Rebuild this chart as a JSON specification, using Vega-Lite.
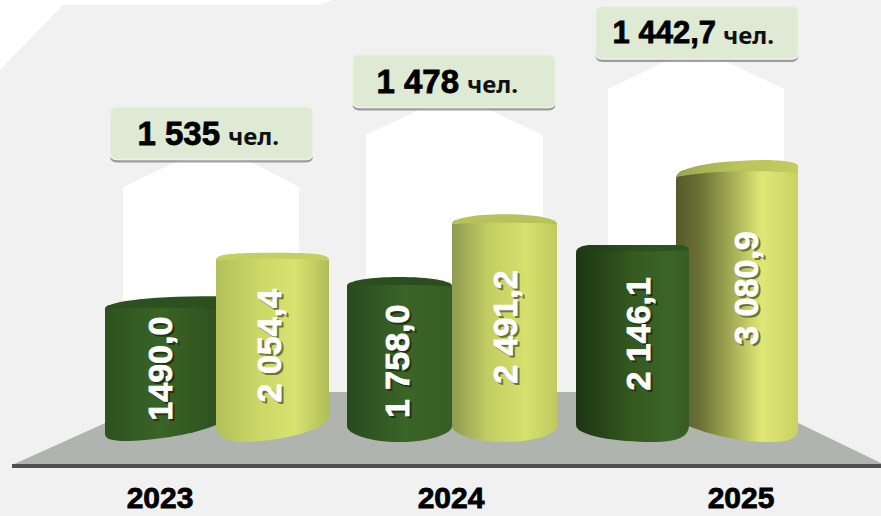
{"$schema":"https://vega.github.io/schema/vega-lite/v6.json","width":881,"height":516,"autosize":"none","padding":0,"background":"#f1f1f1","config":{"view":{"stroke":null}},
"data":{"values":[{"year":"2023","series":"Ряд 1","value":1490.0,"label":"1490,0"},{"year":"2023","series":"Ряд 2","value":2054.4,"label":"2 054,4"},{"year":"2024","series":"Ряд 1","value":1758.0,"label":"1 758,0"},{"year":"2024","series":"Ряд 2","value":2491.2,"label":"2 491,2"},{"year":"2025","series":"Ряд 1","value":2146.1,"label":"2 146,1"},{"year":"2025","series":"Ряд 2","value":3080.9,"label":"3 080,9"},{"year":"2023","series":"Численность","value":1535,"label":"1 535","unit":"чел."},{"year":"2024","series":"Численность","value":1478,"label":"1 478","unit":"чел."},{"year":"2025","series":"Численность","value":1442.7,"label":"1 442,7","unit":"чел."}]},
"encoding":{"x":{"field":"year","type":"nominal","axis":null,"scale":{"type":"band","domain":["2023","2024","2025"],"range":[99.5,804.5],"paddingInner":0,"paddingOuter":0}},"y":{"field":"value","type":"quantitative","axis":null,"scale":{"domain":[-988,5082],"range":[516,0],"nice":false,"zero":false}}},
"layer":[
{"transform":[{"filter":"datum.series=='Численность' && datum.year=='2023'"}],"mark":{"type":"point","filled":true,"opacity":1,"size":4,"fill":"#ffffff","stroke":null,"shape":"M-217,-5 L115,-5 L103,0 L-154,0 L-217,65 Z"},"encoding":{"y":{"datum":5023}}},
{"transform":[{"filter":"datum.series=='Численность' && datum.year=='2023'"}],"mark":{"type":"point","filled":true,"opacity":1,"size":4,"fill":"#ffffff","stroke":null,"shape":"M-37,27 L30,27 L82,54 L82,262 L-94,262 L-94,54 Z"},"encoding":{"y":{"datum":3518}}},
{"transform":[{"filter":"datum.series=='Численность' && datum.year=='2024'"}],"mark":{"type":"point","filled":true,"opacity":1,"size":4,"fill":"#ffffff","stroke":null,"shape":"M-27,26 L31,26 L91,54 L91,314 L-86,314 L-86,54 Z"},"encoding":{"y":{"datum":4129}}},
{"transform":[{"filter":"datum.series=='Численность' && datum.year=='2025'"}],"mark":{"type":"point","filled":true,"opacity":1,"size":4,"fill":"#ffffff","stroke":null,"shape":"M-19,27.5 L36,27.5 L97,56.5 L97,362.5 L-79,362.5 L-79,56.5 Z"},"encoding":{"y":{"datum":4700}}},
{"transform":[{"filter":"datum.series=='Численность' && datum.year=='2024'"}],"mark":{"type":"point","filled":true,"opacity":1,"size":4,"fill":"#b0b4ae","stroke":null,"shape":"M-278,-40 L282,-40 L429,31 L429,36 L-440,36 L-440,33 Z"},"encoding":{"y":{"datum":0}}},
{"transform":[{"filter":"datum.series=='Численность' && datum.year=='2024'"}],"mark":{"type":"point","filled":true,"opacity":1,"size":4,"fill":"#4f504e","stroke":null,"shape":"M-440,32 L429,32 L429,36 L-440,36 Z"},"encoding":{"y":{"datum":0}}},
{"transform":[{"filter":"datum.year=='2023' && datum.series=='Ряд 1'"},{"calculate":"datum.value/2","as":"mid"}],"layer":[
{"mark":{"type":"point","filled":true,"opacity":1,"size":4,"xOffset":-56.5,"stroke":null,"fill":{"gradient":"linear","x1":0,"y1":0,"x2":1,"y2":0,"stops":[{"offset":0,"color":"#2e521f"},{"offset":0.5,"color":"#3a6326"},{"offset":1,"color":"#2f5320"}]},"shape":"M-55.5,-8 L55.5,-8 L55.5,-7 C30,4 -15,9 -35,9 C-48,9 -55.5,7 -55.5,2 Z"},"encoding":{"y":{"datum":0}}},
{"mark":{"type":"bar","width":111,"xOffset":-56.5,"cornerRadiusTopLeft":4,"fill":{"gradient":"linear","x1":0,"y1":0,"x2":1,"y2":0,"stops":[{"offset":0,"color":"#2e521f"},{"offset":0.5,"color":"#3a6326"},{"offset":1,"color":"#2f5320"}]}},"encoding":{"y2":{"datum":82}}},
{"mark":{"type":"point","filled":true,"opacity":1,"size":4,"xOffset":-56.5,"stroke":null,"fill":"#2d5020","shape":"M-55.5,4 C-55.5,-3 -20,-9 55.5,-9 L55.5,4 C20,2 -30,2 -55.5,4 Z"}},
{"mark":{"type":"text","font":"Liberation Sans","fontWeight":"bold","fontSize":34,"angle":270,"fill":"#1d3312","stroke":"#1d3312","strokeWidth":0.8,"xOffset":-53,"yOffset":2},"encoding":{"y":{"field":"mid","type":"quantitative"},"text":{"field":"label"}}},
{"mark":{"type":"text","font":"Liberation Sans","fontWeight":"bold","fontSize":34,"angle":270,"fill":"#ffffff","stroke":"#ffffff","strokeWidth":0.8,"xOffset":-55},"encoding":{"y":{"field":"mid","type":"quantitative"},"text":{"field":"label"}}}
]},
{"transform":[{"filter":"datum.year=='2023' && datum.series=='Ряд 2'"},{"calculate":"datum.value/2","as":"mid"}],"layer":[
{"mark":{"type":"point","filled":true,"opacity":1,"size":4,"xOffset":55.5,"stroke":null,"fill":{"gradient":"linear","x1":0,"y1":0,"x2":1,"y2":0,"stops":[{"offset":0,"color":"#b3c05a"},{"offset":0.4,"color":"#ccd967"},{"offset":0.7,"color":"#d8e270"},{"offset":1,"color":"#b0bc58"}]},"shape":"M-56.5,-14 L56.5,-14 C56.5,-8 30,7 -25,10 C-45,10 -56.5,5 -56.5,-5 Z"},"encoding":{"y":{"datum":0}}},
{"mark":{"type":"bar","width":113,"xOffset":55.5,"cornerRadiusTopLeft":3,"cornerRadiusTopRight":3,"fill":{"gradient":"linear","x1":0,"y1":0,"x2":1,"y2":0,"stops":[{"offset":0,"color":"#b3c05a"},{"offset":0.4,"color":"#ccd967"},{"offset":0.7,"color":"#d8e270"},{"offset":1,"color":"#b0bc58"}]}},"encoding":{"y2":{"datum":165}}},
{"mark":{"type":"point","filled":true,"opacity":1,"size":4,"xOffset":55.5,"stroke":null,"fill":"#c3cf60","shape":"M-56.5,3 C-56.5,-3 -45,-4.5 0,-4.5 C45,-4.5 56.5,-3 56.5,3 C30,1 -30,1 -56.5,3 Z"}},
{"mark":{"type":"text","font":"Liberation Sans","fontWeight":"bold","fontSize":34,"angle":270,"fill":"#6c7434","stroke":"#6c7434","strokeWidth":0.8,"xOffset":56,"yOffset":3},"encoding":{"y":{"field":"mid","type":"quantitative"},"text":{"field":"label"}}},
{"mark":{"type":"text","font":"Liberation Sans","fontWeight":"bold","fontSize":34,"angle":270,"fill":"#ffffff","stroke":"#ffffff","strokeWidth":0.8,"xOffset":54,"yOffset":1},"encoding":{"y":{"field":"mid","type":"quantitative"},"text":{"field":"label"}}}
]},
{"transform":[{"filter":"datum.year=='2024' && datum.series=='Ряд 1'"},{"calculate":"datum.value/2","as":"mid"}],"layer":[
{"mark":{"type":"point","filled":true,"opacity":1,"size":4,"xOffset":-52.5,"stroke":null,"fill":{"gradient":"linear","x1":0,"y1":0,"x2":1,"y2":0,"stops":[{"offset":0,"color":"#274a1d"},{"offset":0.55,"color":"#3b6427"},{"offset":1,"color":"#375e25"}]},"shape":"M-52.5,-6 L52.5,-6 C52.5,2 30,10 0,10 C-30,10 -52.5,2 -52.5,-6 Z"},"encoding":{"y":{"datum":0}}},
{"mark":{"type":"bar","width":105,"xOffset":-52.5,"cornerRadiusTopLeft":4,"cornerRadiusTopRight":4,"fill":{"gradient":"linear","x1":0,"y1":0,"x2":1,"y2":0,"stops":[{"offset":0,"color":"#274a1d"},{"offset":0.55,"color":"#3b6427"},{"offset":1,"color":"#375e25"}]}},"encoding":{"y2":{"datum":70}}},
{"mark":{"type":"point","filled":true,"opacity":1,"size":4,"xOffset":-52.5,"stroke":null,"fill":"#2b4e1e","shape":"M-52.5,4 C-52.5,-2 -30,-5.5 0,-5.5 C30,-5.5 52.5,-2 52.5,4 C30,2 -30,2 -52.5,4 Z"}},
{"mark":{"type":"text","font":"Liberation Sans","fontWeight":"bold","fontSize":34,"angle":270,"fill":"#1d3312","stroke":"#1d3312","strokeWidth":0.8,"xOffset":-51,"yOffset":6},"encoding":{"y":{"field":"mid","type":"quantitative"},"text":{"field":"label"}}},
{"mark":{"type":"text","font":"Liberation Sans","fontWeight":"bold","fontSize":34,"angle":270,"fill":"#ffffff","stroke":"#ffffff","strokeWidth":0.8,"xOffset":-53,"yOffset":4},"encoding":{"y":{"field":"mid","type":"quantitative"},"text":{"field":"label"}}}
]},
{"transform":[{"filter":"datum.year=='2024' && datum.series=='Ряд 2'"},{"calculate":"datum.value/2","as":"mid"}],"layer":[
{"mark":{"type":"point","filled":true,"opacity":1,"size":4,"xOffset":52.5,"stroke":null,"fill":{"gradient":"linear","x1":0,"y1":0,"x2":1,"y2":0,"stops":[{"offset":0,"color":"#8f9b50"},{"offset":0.35,"color":"#c2ce62"},{"offset":0.7,"color":"#d6e06d"},{"offset":1,"color":"#bfcb5e"}]},"shape":"M-52.5,-6 L52.5,-6 C52.5,2 30,10 0,10 C-30,10 -52.5,2 -52.5,-6 Z"},"encoding":{"y":{"datum":0}}},
{"mark":{"type":"bar","width":105,"xOffset":52.5,"cornerRadiusTopLeft":4,"cornerRadiusTopRight":4,"fill":{"gradient":"linear","x1":0,"y1":0,"x2":1,"y2":0,"stops":[{"offset":0,"color":"#8f9b50"},{"offset":0.35,"color":"#c2ce62"},{"offset":0.7,"color":"#d6e06d"},{"offset":1,"color":"#bfcb5e"}]}},"encoding":{"y2":{"datum":70}}},
{"mark":{"type":"point","filled":true,"opacity":1,"size":4,"xOffset":52.5,"stroke":null,"fill":"#b7c25a","shape":"M-52.5,4 C-52.5,-2 -30,-6 0,-6 C30,-6 52.5,-2 52.5,4 C30,2 -30,2 -52.5,4 Z"}},
{"mark":{"type":"text","font":"Liberation Sans","fontWeight":"bold","fontSize":34,"angle":270,"fill":"#6c7434","stroke":"#6c7434","strokeWidth":0.8,"xOffset":57,"yOffset":3},"encoding":{"y":{"field":"mid","type":"quantitative"},"text":{"field":"label"}}},
{"mark":{"type":"text","font":"Liberation Sans","fontWeight":"bold","fontSize":34,"angle":270,"fill":"#ffffff","stroke":"#ffffff","strokeWidth":0.8,"xOffset":55,"yOffset":1},"encoding":{"y":{"field":"mid","type":"quantitative"},"text":{"field":"label"}}}
]},
{"transform":[{"filter":"datum.year=='2025' && datum.series=='Ряд 2'"},{"calculate":"datum.value/2","as":"mid"}],"layer":[
{"mark":{"type":"point","filled":true,"opacity":1,"size":4,"xOffset":50,"stroke":null,"fill":{"gradient":"linear","x1":0,"y1":0,"x2":1,"y2":0,"stops":[{"offset":0,"color":"#55582b"},{"offset":0.2,"color":"#6b7235"},{"offset":0.5,"color":"#adb75a"},{"offset":0.7,"color":"#e0e776"},{"offset":1,"color":"#c8d263"}]},"shape":"M-61,-15 L61,-15 L61,-4 C61,8 50,10 30,10 C0,10 -40,0 -61,-12 Z"},"encoding":{"y":{"datum":0}}},
{"mark":{"type":"bar","width":122,"xOffset":50,"cornerRadiusTopLeft":10,"cornerRadiusTopRight":3,"fill":{"gradient":"linear","x1":0,"y1":0,"x2":1,"y2":0,"stops":[{"offset":0,"color":"#55582b"},{"offset":0.2,"color":"#6b7235"},{"offset":0.5,"color":"#adb75a"},{"offset":0.7,"color":"#e0e776"},{"offset":1,"color":"#c8d263"}]}},"encoding":{"y2":{"datum":176}}},
{"mark":{"type":"point","filled":true,"opacity":1,"size":4,"xOffset":50,"stroke":null,"fill":{"gradient":"linear","x1":0,"y1":0,"x2":1,"y2":0,"stops":[{"offset":0,"color":"#9da650"},{"offset":0.5,"color":"#b9c45a"},{"offset":1,"color":"#c2cc5f"}]},"shape":"M-61,7 C-58,-2 -30,-9 25,-10 C45,-10 61,-8 61,-4 L61,3 C30,0 -30,0 -61,7 Z"}},
{"mark":{"type":"text","font":"Liberation Sans","fontWeight":"bold","fontSize":34,"angle":270,"fill":"#6c7434","stroke":"#6c7434","strokeWidth":0.8,"xOffset":63,"yOffset":-11},"encoding":{"y":{"field":"mid","type":"quantitative"},"text":{"field":"label"}}},
{"mark":{"type":"text","font":"Liberation Sans","fontWeight":"bold","fontSize":34,"angle":270,"fill":"#ffffff","stroke":"#ffffff","strokeWidth":0.8,"xOffset":61,"yOffset":-13},"encoding":{"y":{"field":"mid","type":"quantitative"},"text":{"field":"label"}}}
]},
{"transform":[{"filter":"datum.year=='2025' && datum.series=='Ряд 1'"},{"calculate":"datum.value/2","as":"mid"}],"layer":[
{"mark":{"type":"point","filled":true,"opacity":1,"size":4,"xOffset":-54.5,"stroke":null,"fill":{"gradient":"linear","x1":0,"y1":0,"x2":1,"y2":0,"stops":[{"offset":0,"color":"#1c3513"},{"offset":0.5,"color":"#35591f"},{"offset":0.8,"color":"#3c6428"},{"offset":1,"color":"#375c25"}]},"shape":"M-56.5,-7 L56.5,-7 C56.5,5 45,10 20,10 C-15,10 -56.5,4 -56.5,-7 Z"},"encoding":{"y":{"datum":0}}},
{"mark":{"type":"bar","width":113,"xOffset":-54.5,"cornerRadiusTopLeft":4,"cornerRadiusTopRight":4,"fill":{"gradient":"linear","x1":0,"y1":0,"x2":1,"y2":0,"stops":[{"offset":0,"color":"#1c3513"},{"offset":0.5,"color":"#35591f"},{"offset":0.8,"color":"#3c6428"},{"offset":1,"color":"#375c25"}]}},"encoding":{"y2":{"datum":82}}},
{"mark":{"type":"point","filled":true,"opacity":1,"size":4,"xOffset":-54.5,"stroke":null,"fill":{"gradient":"linear","x1":0,"y1":0,"x2":1,"y2":0,"stops":[{"offset":0,"color":"#1e3815"},{"offset":0.5,"color":"#2c4f1e"},{"offset":1,"color":"#2f5521"}]},"shape":"M-56.5,3 C-56.5,-2 -50,-4.5 -40,-4.5 L45,-4.5 C52,-4.5 56.5,-3 56.5,1 C30,2 -30,2 -56.5,3 Z"}},
{"mark":{"type":"text","font":"Liberation Sans","fontWeight":"bold","fontSize":34,"angle":270,"fill":"#1d3312","stroke":"#1d3312","strokeWidth":0.8,"xOffset":-45,"yOffset":-5},"encoding":{"y":{"field":"mid","type":"quantitative"},"text":{"field":"label"}}},
{"mark":{"type":"text","font":"Liberation Sans","fontWeight":"bold","fontSize":34,"angle":270,"fill":"#ffffff","stroke":"#ffffff","strokeWidth":0.8,"xOffset":-47,"yOffset":-7},"encoding":{"y":{"field":"mid","type":"quantitative"},"text":{"field":"label"}}}
]},
{"transform":[{"filter":"datum.series=='Численность' && datum.year=='2023'"}],"encoding":{"y":{"datum":3518}},"layer":[
{"mark":{"type":"point","filled":true,"opacity":0.55,"size":4,"xOffset":-5.5,"yOffset":3,"fill":"#555555","stroke":null,"shape":"M-94.5,-26.5 L94.5,-26.5 Q101.5,-26.5 101.5,-19.5 L101.5,19.5 Q101.5,26.5 94.5,26.5 L-94.5,26.5 Q-101.5,26.5 -101.5,19.5 L-101.5,-19.5 Q-101.5,-26.5 -94.5,-26.5 Z"}},
{"mark":{"type":"point","filled":true,"opacity":1,"size":4,"xOffset":-5.5,"fill":"#dfead4","stroke":"#eef3e6","strokeWidth":1.5,"shape":"M-94.5,-26.5 L94.5,-26.5 Q101.5,-26.5 101.5,-19.5 L101.5,19.5 Q101.5,26.5 94.5,26.5 L-94.5,26.5 Q-101.5,26.5 -101.5,19.5 L-101.5,-19.5 Q-101.5,-26.5 -94.5,-26.5 Z"}},
{"mark":{"type":"text","font":"Liberation Sans","fontWeight":"bold","fontSize":33,"align":"right","fill":"#000000","stroke":"#000000","strokeWidth":0.8,"xOffset":3,"yOffset":2},"encoding":{"text":{"field":"label"}}},
{"mark":{"type":"text","font":"Noto Sans","fontWeight":"bold","fontSize":24,"align":"left","fill":"#111111","xOffset":11,"yOffset":5},"encoding":{"text":{"field":"unit"}}}
]},
{"transform":[{"filter":"datum.series=='Численность' && datum.year=='2024'"}],"encoding":{"y":{"datum":4129}},"layer":[
{"mark":{"type":"point","filled":true,"opacity":0.55,"size":4,"xOffset":2,"yOffset":3,"fill":"#555555","stroke":null,"shape":"M-94.5,-26.5 L94.5,-26.5 Q101.5,-26.5 101.5,-19.5 L101.5,19.5 Q101.5,26.5 94.5,26.5 L-94.5,26.5 Q-101.5,26.5 -101.5,19.5 L-101.5,-19.5 Q-101.5,-26.5 -94.5,-26.5 Z"}},
{"mark":{"type":"point","filled":true,"opacity":1,"size":4,"xOffset":2,"fill":"#dfead4","stroke":"#eef3e6","strokeWidth":1.5,"shape":"M-94.5,-26.5 L94.5,-26.5 Q101.5,-26.5 101.5,-19.5 L101.5,19.5 Q101.5,26.5 94.5,26.5 L-94.5,26.5 Q-101.5,26.5 -101.5,19.5 L-101.5,-19.5 Q-101.5,-26.5 -94.5,-26.5 Z"}},
{"mark":{"type":"text","font":"Liberation Sans","fontWeight":"bold","fontSize":33,"align":"right","fill":"#000000","stroke":"#000000","strokeWidth":0.8,"xOffset":7,"yOffset":2},"encoding":{"text":{"field":"label"}}},
{"mark":{"type":"text","font":"Noto Sans","fontWeight":"bold","fontSize":24,"align":"left","fill":"#111111","xOffset":15,"yOffset":5},"encoding":{"text":{"field":"unit"}}}
]},
{"transform":[{"filter":"datum.series=='Численность' && datum.year=='2025'"}],"encoding":{"y":{"datum":4700}},"layer":[
{"mark":{"type":"point","filled":true,"opacity":0.55,"size":4,"xOffset":10,"yOffset":3,"fill":"#555555","stroke":null,"shape":"M-94.5,-26.5 L94.5,-26.5 Q101.5,-26.5 101.5,-19.5 L101.5,19.5 Q101.5,26.5 94.5,26.5 L-94.5,26.5 Q-101.5,26.5 -101.5,19.5 L-101.5,-19.5 Q-101.5,-26.5 -94.5,-26.5 Z"}},
{"mark":{"type":"point","filled":true,"opacity":1,"size":4,"xOffset":10,"fill":"#dfead4","stroke":"#eef3e6","strokeWidth":1.5,"shape":"M-94.5,-26.5 L94.5,-26.5 Q101.5,-26.5 101.5,-19.5 L101.5,19.5 Q101.5,26.5 94.5,26.5 L-94.5,26.5 Q-101.5,26.5 -101.5,19.5 L-101.5,-19.5 Q-101.5,-26.5 -94.5,-26.5 Z"}},
{"mark":{"type":"text","font":"Liberation Sans","fontWeight":"bold","fontSize":31,"align":"right","fill":"#000000","stroke":"#000000","strokeWidth":0.8,"xOffset":29,"yOffset":2},"encoding":{"text":{"field":"label"}}},
{"mark":{"type":"text","font":"Noto Sans","fontWeight":"bold","fontSize":24,"align":"left","fill":"#111111","xOffset":36,"yOffset":5},"encoding":{"text":{"field":"unit"}}}
]},
{"transform":[{"filter":"datum.series=='Численность' && datum.year=='2023'"}],"mark":{"type":"text","font":"Liberation Sans","fontWeight":"bold","fontSize":30,"fill":"#000000","stroke":"#000000","strokeWidth":0.8,"xOffset":-57},"encoding":{"y":{"datum":-790},"text":{"field":"year"}}},
{"transform":[{"filter":"datum.series=='Численность' && datum.year=='2024'"}],"mark":{"type":"text","font":"Liberation Sans","fontWeight":"bold","fontSize":30,"fill":"#000000","stroke":"#000000","strokeWidth":0.8,"xOffset":-1},"encoding":{"y":{"datum":-790},"text":{"field":"year"}}},
{"transform":[{"filter":"datum.series=='Численность' && datum.year=='2025'"}],"mark":{"type":"text","font":"Liberation Sans","fontWeight":"bold","fontSize":30,"fill":"#000000","stroke":"#000000","strokeWidth":0.8,"xOffset":54},"encoding":{"y":{"datum":-790},"text":{"field":"year"}}}
]}
